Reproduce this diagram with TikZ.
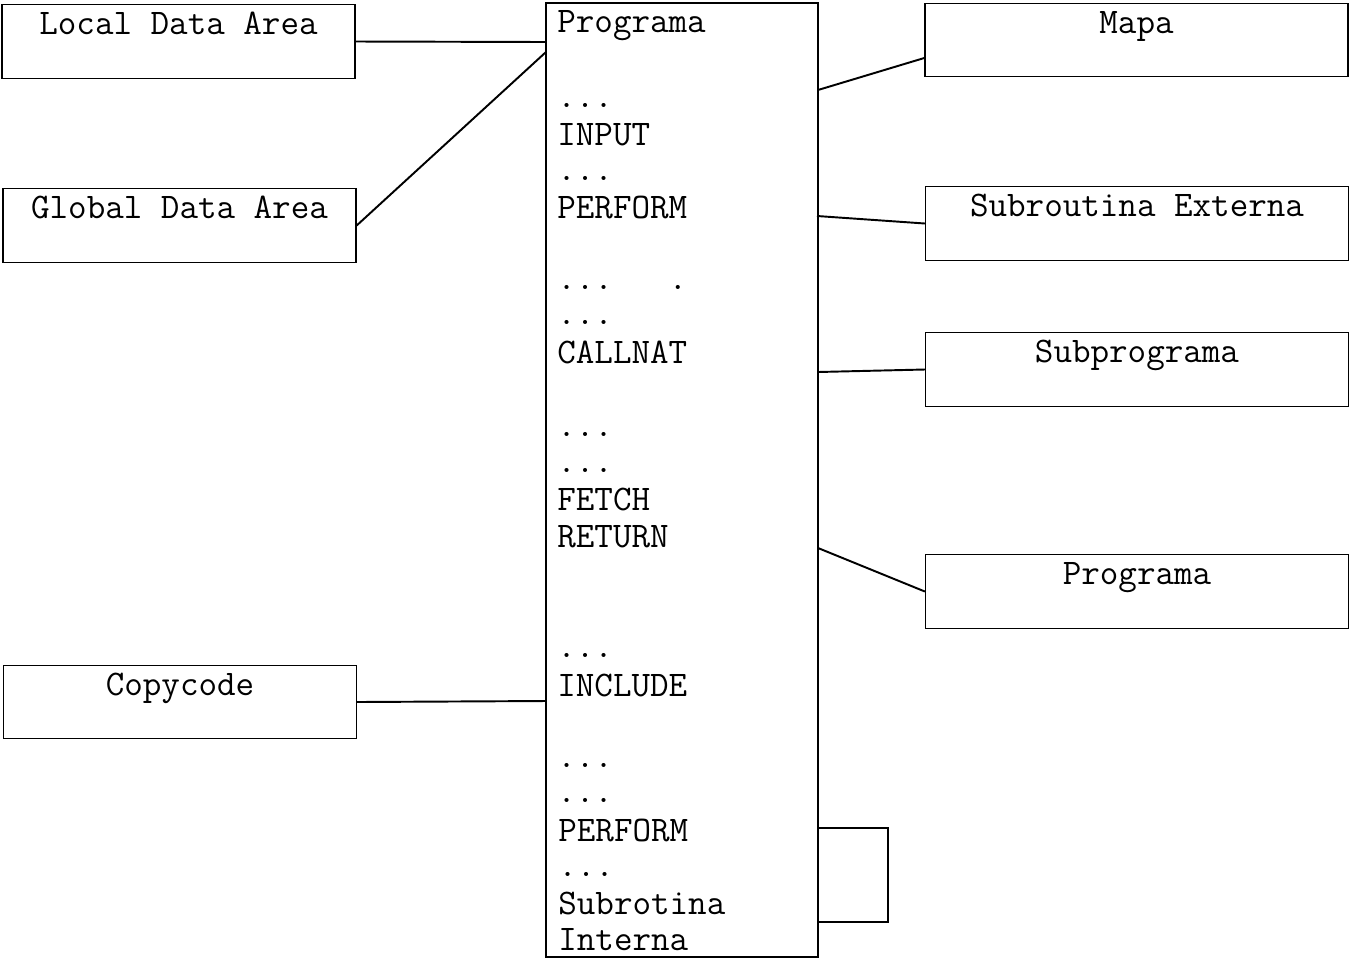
\documentclass[tikz,border=0pt]{standalone}
\usepackage{fontspec}
\usetikzlibrary{positioning,calc}
\tikzset{
	blk/.style={draw=black,line width=0.8pt,minimum width=7.06cm,minimum height=1.47cm,
		inner ysep=0pt,text height=0.6cm,text depth=0.87cm},
	rblk/.style={blk,minimum width=8.46cm},
	ln/.style={anchor=base west,inner sep=0pt},
	link/.style={draw=black,line width=1.1pt},
}
\begin{document}
\begin{tikzpicture}[x=0.02cm,y=-0.02cm,font=\ttfamily\fontsize{20.5}{22}\selectfont]
	\useasboundingbox (0,0) rectangle (1349,958);
	% left side
	\node[blk] (lda) at (178.5,41.5) {Local Data Area};
	\node[blk] (gda) at (179.5,225.5) {Global Data Area};
	\node[blk] (copy) at (180,702) {Copycode};
	% program in the middle
	\node[draw=black,line width=0.8pt,minimum width=5.44cm,minimum height=19.08cm,inner sep=0pt] (prog) at (682,480) {};
	\node[ln] (l1) at (557,32) {Programa};
	\node[ln] (l2) at (557,107) {...};
	\node[ln] (l3) at (557,145) {INPUT};
	\node[ln] (l4) at (557,180) {...};
	\node[ln] (l5) at (557,218) {PERFORM};
	\node[ln] (l6) at (557,289) {...\ \ \ .};
	\node[ln] (l7) at (557,324) {...};
	\node[ln] (l8) at (557,363) {CALLNAT};
	\node[ln] (l9) at (557,436) {...};
	\node[ln] (l10) at (557,472) {...};
	\node[ln] (l11) at (557,510) {FETCH};
	\node[ln] (l12) at (557,547) {RETURN};
	\node[ln] (l13) at (557,657) {...};
	\node[ln] (l14) at (557,696) {INCLUDE};
	\node[ln] (l15) at (557,767) {...};
	\node[ln] (l16) at (557,802) {...};
	\node[ln] (l17) at (558,841) {PERFORM};
	\node[ln] (l18) at (558,876) {...};
	\node[ln] (l19) at (558,914) {Subrotina};
	\node[ln] (l20) at (558,950) {Interna};
	% right side
	\node[rblk] (mapa) at (1136.5,40) {Mapa};
	\node[rblk] (ext) at (1137,223.5) {Subroutina Externa};
	\node[rblk] (subp) at (1137,369.5) {Subprograma};
	\node[rblk] (prog2) at (1137,591.5) {Programa};
	% points on the program box
	\coordinate (pa) at (546,42);
	\coordinate (pb) at (546,52);
	\coordinate (pc) at (546,701);
	\coordinate (pd) at (818,90);
	\coordinate (pe) at (817,216);
	\coordinate (pf) at (818,372);
	\coordinate (pg) at (818,548);
	\coordinate (ph) at (818,828);
	\coordinate (pi) at (818,922);
	\coordinate (pj) at (888,922);
	% links
	\draw[link] (lda.east) -- (pa);
	\draw[link] (gda.east) -- (pb);
	\draw[link] (copy.east) -- (pc);
	\draw[link] (pd) -- ($(mapa.south west)!0.26!(mapa.north west)$);
	\draw[link] (pe) -- (ext.west);
	\draw[link] (pf) -- (subp.west);
	\draw[link] (pg) -- (prog2.west);
	\draw[link] (ph) -| (pj) -- (pi);
\end{tikzpicture}
\end{document}
